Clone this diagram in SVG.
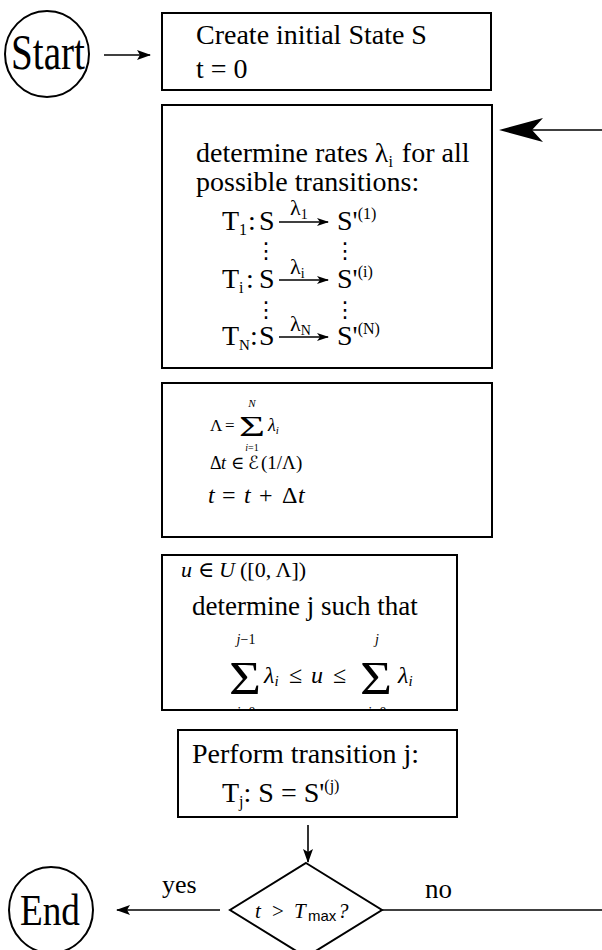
<svg xmlns="http://www.w3.org/2000/svg" width="602" height="950" viewBox="0 0 602 950">
<style>
.box{fill:#fff;stroke:#000;stroke-width:2}
.ln{fill:none;stroke:#000;stroke-width:1.6}
.t{font-family:"Liberation Serif","DejaVu Serif",serif;fill:#000}
.m{font-family:"Liberation Serif","DejaVu Serif","DejaVu Sans",serif;fill:#000}
.i{font-style:italic}
.sf{font-family:"Liberation Sans","DejaVu Sans",sans-serif}
.dots{font-family:"DejaVu Sans",sans-serif;text-anchor:middle;fill:#000}
</style>
<defs>
<marker id="ah" markerWidth="14" markerHeight="10" refX="13" refY="5" orient="auto" markerUnits="userSpaceOnUse">
<path d="M0,0 L14,5 L0,10 L3,5 z" fill="#000"/>
</marker>
<marker id="ah2" markerWidth="12" markerHeight="8" refX="11" refY="4" orient="auto" markerUnits="userSpaceOnUse">
<path d="M0,0 L12,4 L0,8 L3,4 z" fill="#000"/>
</marker>
<clipPath id="c4"><rect x="163" y="556" width="293" height="153"/></clipPath>
</defs>

<g id="connectors">
<line class="ln" x1="104" y1="55" x2="150" y2="55" marker-end="url(#ah)"/>
<line class="ln" x1="532" y1="130" x2="602" y2="130"/>
<path d="M499,130 L543,118 L532,130 L543,142 z" fill="#000"/>
<line class="ln" x1="308" y1="825" x2="308" y2="862" marker-end="url(#ah)"/>
<line class="ln" x1="220" y1="910" x2="117" y2="910" marker-end="url(#ah)"/>
<line class="ln" x1="382" y1="910" x2="602" y2="910"/>
<text class="t" x="162" y="893" font-size="26">yes</text>
<text class="t" x="425" y="898" font-size="27">no</text>
</g>

<g id="start">
<ellipse class="box" cx="47" cy="54" rx="42" ry="43"/>
<text class="t" x="11" y="69" font-size="50" textLength="74" lengthAdjust="spacingAndGlyphs">Start</text>
</g>

<g id="init">
<rect class="box" x="162" y="13" width="329" height="77"/>
<text class="t" x="196" y="44" font-size="28">Create initial State S</text>
<text class="t" x="196" y="78" font-size="28">t = 0</text>
</g>

<g id="rates">
<rect class="box" x="162" y="105" width="330" height="263"/>
<text class="t" x="196" y="162" font-size="28">determine rates λ<tspan font-size="16" dy="5">i</tspan><tspan dx="2" dy="-5"> for all</tspan></text>
<text class="t" x="196" y="191" font-size="28">possible transitions:</text>

<text class="t" y="230" font-size="28"><tspan x="222">T</tspan><tspan font-size="16" dy="5">1</tspan><tspan x="248" dy="-5">:</tspan><tspan x="259">S</tspan></text>
<text class="t" x="290" y="215" font-size="22">λ<tspan font-size="14" dy="4">1</tspan></text>
<line class="ln" x1="279" y1="222" x2="328" y2="222" marker-end="url(#ah2)"/>
<text class="t" x="337" y="230" font-size="28">S'<tspan font-size="16" dy="-11">(1)</tspan></text>

<text class="dots" x="266" y="258" font-size="22">⋮</text>
<text class="dots" x="345" y="258" font-size="22">⋮</text>

<text class="t" y="288" font-size="28"><tspan x="222">T</tspan><tspan font-size="16" dy="5">i</tspan><tspan x="246" dy="-5">:</tspan><tspan x="259">S</tspan></text>
<text class="t" x="290" y="274" font-size="22">λ<tspan font-size="14" dy="4">i</tspan></text>
<line class="ln" x1="279" y1="280" x2="328" y2="280" marker-end="url(#ah2)"/>
<text class="t" x="337" y="288" font-size="28">S'<tspan font-size="16" dy="-11">(i)</tspan></text>

<text class="dots" x="266" y="317" font-size="22">⋮</text>
<text class="dots" x="345" y="317" font-size="22">⋮</text>

<text class="t" y="345" font-size="28"><tspan x="222">T</tspan><tspan font-size="15" dy="5">N</tspan><tspan x="250" dy="-5">:</tspan><tspan x="259">S</tspan></text>
<text class="t" x="290" y="331" font-size="22">λ<tspan font-size="14" dy="4">N</tspan></text>
<line class="ln" x1="279" y1="337" x2="328" y2="337" marker-end="url(#ah2)"/>
<text class="t" x="337" y="345" font-size="28">S'<tspan font-size="16" dy="-11">(N)</tspan></text>
</g>

<g id="time">
<rect class="box" x="162" y="383" width="330" height="154"/>
<text class="m" x="210" y="431" font-size="17">Λ</text>
<text class="m" x="225" y="431" font-size="17">=</text>
<text class="m" x="239" y="436" font-size="30" textLength="26" lengthAdjust="spacingAndGlyphs">Σ</text>
<text class="m i" x="252" y="407" font-size="11" text-anchor="middle">N</text>
<text class="m" x="252" y="451" font-size="10" text-anchor="middle"><tspan class="i">i</tspan>=1</text>
<text class="m i" x="268" y="431" font-size="18">λ<tspan font-size="11" dy="3">i</tspan></text>
<text class="m" x="210" y="469" font-size="18">Δ</text>
<text class="m i" x="221" y="469" font-size="18">t</text>
<text class="m" x="231" y="469" font-size="18">∈</text>
<text class="m" x="248" y="469" font-size="18">ℰ</text>
<text class="m" x="261" y="469" font-size="19">(1/Λ)</text>
<text class="m i" x="208" y="503" font-size="24">t</text>
<text class="m" x="222" y="503" font-size="24">=</text>
<text class="m i" x="244" y="503" font-size="24">t</text>
<text class="m" x="259" y="503" font-size="24">+</text>
<text class="m" x="282" y="503" font-size="24">Δ</text>
<text class="m i" x="298" y="503" font-size="24">t</text>
</g>

<g id="select">
<rect class="box" x="162" y="555" width="295" height="155"/>
<text class="m i" x="181" y="577" font-size="22">u</text>
<text class="m" x="198" y="577" font-size="22">∈</text>
<text class="m i" x="219" y="577" font-size="22">U</text>
<text class="m" x="240" y="577" font-size="22">([0, Λ])</text>
<text class="t" x="192" y="615" font-size="27">determine j such that</text>
<g clip-path="url(#c4)">
<text class="m" x="229" y="694" font-size="46" textLength="32" lengthAdjust="spacingAndGlyphs">Σ</text>
<text class="m" x="246" y="644" font-size="14" text-anchor="middle"><tspan class="i">j</tspan>−1</text>
<text class="m" x="246" y="717" font-size="14" text-anchor="middle"><tspan class="i">i</tspan>=0</text>
<text class="m i" x="264" y="683" font-size="24">λ<tspan font-size="15" dy="3">i</tspan></text>
<text class="m" x="289" y="683" font-size="24">≤</text>
<text class="m i" x="311" y="683" font-size="24">u</text>
<text class="m" x="333" y="683" font-size="24">≤</text>
<text class="m" x="360" y="694" font-size="46" textLength="32" lengthAdjust="spacingAndGlyphs">Σ</text>
<text class="m i" x="377" y="644" font-size="14" text-anchor="middle">j</text>
<text class="m" x="377" y="717" font-size="14" text-anchor="middle"><tspan class="i">i</tspan>=0</text>
<text class="m i" x="398" y="683" font-size="24">λ<tspan font-size="15" dy="3">i</tspan></text>
</g>
</g>

<g id="perform">
<rect class="box" x="178" y="730" width="279" height="87"/>
<text class="t" x="192" y="763" font-size="28">Perform transition j:</text>
<text class="t" x="222" y="802" font-size="28">T<tspan font-size="16" dy="5">j</tspan><tspan dy="-5">: S = S'</tspan><tspan font-size="16" dy="-11">(j)</tspan></text>
</g>

<g id="decision">
<polygon class="box" points="306,863 382,910 306,957 230,910"/>
<text class="m i" x="255" y="918" font-size="21">t</text>
<text class="m" x="272" y="918" font-size="21">&gt;</text>
<text class="m i" x="294" y="918" font-size="21">T</text>
<text class="sf" x="308" y="921" font-size="15">max</text>
<text class="m i" x="338" y="918" font-size="21">?</text>
</g>

<g id="end">
<ellipse class="box" cx="51" cy="910" rx="42" ry="43"/>
<text class="t" x="20" y="925" font-size="44" textLength="60" lengthAdjust="spacingAndGlyphs">End</text>
</g>
</svg>
